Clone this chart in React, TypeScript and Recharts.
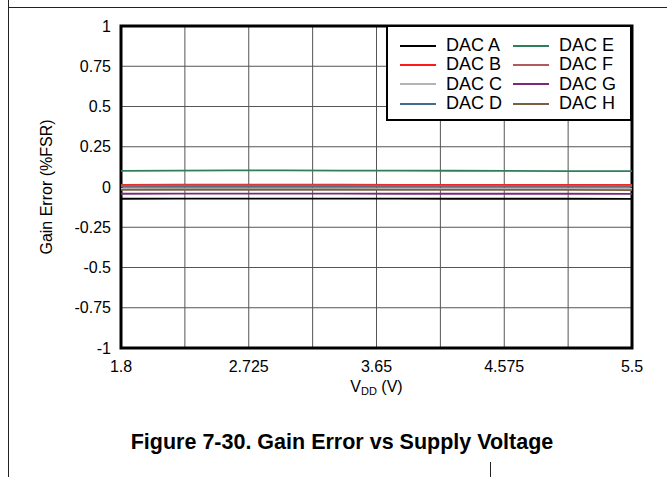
import React from 'react';
import { LineChart, Line, XAxis, YAxis, CartesianGrid, Legend, ReferenceArea } from 'recharts';

const vdd = [1.8, 2.2, 2.6, 3.0, 3.4, 3.8, 4.2, 4.6, 5.0, 5.5];
const dacA = [-0.073, -0.072, -0.072, -0.072, -0.072, -0.072, -0.073, -0.073, -0.073, -0.074];
const dacB = [0.013, 0.014, 0.014, 0.014, 0.014, 0.013, 0.013, 0.013, 0.013, 0.013];
const dacC = [-0.012, -0.011, -0.011, -0.011, -0.011, -0.012, -0.012, -0.012, -0.012, -0.012];
const dacD = [0.002, 0.003, 0.003, 0.003, 0.003, 0.002, 0.002, 0.002, 0.002, 0.002];
const dacE = [0.100, 0.102, 0.103, 0.103, 0.102, 0.102, 0.101, 0.100, 0.099, 0.099];
const dacF = [0.009, 0.010, 0.010, 0.010, 0.010, 0.009, 0.009, 0.009, 0.009, 0.009];
const dacG = [-0.042, -0.041, -0.041, -0.041, -0.041, -0.042, -0.042, -0.042, -0.042, -0.043];
const dacH = [-0.018, -0.017, -0.017, -0.017, -0.017, -0.018, -0.018, -0.018, -0.018, -0.019];

const seriesNames = ['DAC A', 'DAC B', 'DAC C', 'DAC D', 'DAC E', 'DAC F', 'DAC G', 'DAC H'];
const seriesColors = ['#000000', '#ff1a1a', '#b4b4b4', '#3f6e8e', '#2e7f5c', '#b05a5a', '#7a2a7a', '#7a6040'];
const seriesValues = [dacA, dacB, dacC, dacD, dacE, dacF, dacG, dacH];

const xGridTicks = [1.8, 2.2625, 2.725, 3.1875, 3.65, 4.1125, 4.575, 5.0375, 5.5];
const xTickLabels = ['1.8', '2.725', '3.65', '4.575', '5.5'];
const yTicks = [-1, -0.75, -0.5, -0.25, 0, 0.25, 0.5, 0.75, 1];

const data = vdd.map((v, i) => {
  const row: Record<string, number> = { vdd: v };
  seriesNames.forEach((n, k) => {
    row[n] = seriesValues[k][i];
  });
  return row;
});

const FONT = 'Arial, "Liberation Sans", Helvetica, sans-serif';

const LegendBox = () => {
  const left = seriesNames.slice(0, 4);
  const right = seriesNames.slice(4);
  const item = (n: string) => {
    const idx = seriesNames.indexOf(n);
    return (
      <div key={n} style={{ display: 'flex', alignItems: 'center', height: 19.3 }}>
        <div style={{ width: 36, height: 2, background: seriesColors[idx], marginRight: 10 }} />
        <span style={{ fontSize: 18, color: '#000', lineHeight: '19px' }}>{n}</span>
      </div>
    );
  };
  return (
    <div
      style={{
        boxSizing: 'border-box',
        width: 246,
        height: 96,
        border: '2.5px solid #000',
        background: '#fff',
        display: 'flex',
        paddingLeft: 12,
        paddingTop: 9,
        fontFamily: FONT,
      }}
    >
      <div style={{ width: 113 }}>{left.map(item)}</div>
      <div style={{ width: 113 }}>{right.map(item)}</div>
    </div>
  );
};

export default function App() {
  return (
    <div style={{ position: 'absolute', left: 0, top: 0, width: 667, height: 477, background: '#fff', fontFamily: FONT }}>
      <div style={{ position: 'absolute', left: 8, top: 0, width: 1, height: 477, background: '#222' }} />
      <div style={{ position: 'absolute', left: 8, top: 7, width: 659, height: 1, background: '#222' }} />
      <div style={{ position: 'absolute', left: 490, top: 462, width: 1, height: 15, background: '#222' }} />
      <LineChart
        width={667}
        height={477}
        data={data}
        margin={{ top: 26, right: 35, bottom: 99, left: 61 }}
        style={{ fontFamily: FONT }}
      >
        <CartesianGrid stroke="#555" strokeWidth={1} vertical horizontal />
        <XAxis
          dataKey="vdd"
          type="number"
          domain={[1.8, 5.5]}
          ticks={xGridTicks}
          interval={0}
          height={30}
          axisLine={false}
          tickLine={false}
          tickSize={0}
          tickMargin={13}
          tick={{ fill: '#000', fontSize: 16 }}
          tickFormatter={(v: number) => {
            const s = String(v);
            return xTickLabels.includes(s) ? s : '';
          }}
          label={{
            content: (props: any) => {
              const vb = props.viewBox || { x: 121, y: 348, width: 511 };
              const cx = vb.x + vb.width / 2;
              return (
                <text x={cx} y={vb.y + 44} textAnchor="middle" fontSize={16} fill="#000" fontFamily={FONT}>
                  <tspan>V</tspan>
                  <tspan fontSize={11} dy={3}>DD</tspan>
                  <tspan dy={-3}> (V)</tspan>
                </text>
              );
            },
          }}
        />
        <YAxis
          type="number"
          domain={[-1, 1]}
          ticks={yTicks}
          interval={0}
          width={60}
          axisLine={false}
          tickLine={false}
          tickSize={0}
          tickMargin={10}
          tick={{ fill: '#000', fontSize: 16 }}
          label={{
            content: (props: any) => {
              const vb = props.viewBox || { x: 61, y: 25, width: 60, height: 323 };
              const cx = vb.x - 15;
              const cy = vb.y + vb.height / 2;
              return (
                <text
                  x={cx}
                  y={cy}
                  textAnchor="middle"
                  dominantBaseline="central"
                  fontSize={16}
                  fill="#000"
                  fontFamily={FONT}
                  transform={`rotate(-90 ${cx} ${cy})`}
                >
                  Gain Error (%FSR)
                </text>
              );
            },
          }}
        />
        {seriesNames.map((n, k) => (
          <Line
            key={n}
            type="linear"
            dataKey={n}
            stroke={seriesColors[k]}
            strokeWidth={1.8}
            dot={false}
            isAnimationActive={false}
          />
        ))}
        <ReferenceArea x1={1.8} x2={5.5} y1={-1} y2={1} fill="none" stroke="#000" strokeWidth={3} ifOverflow="visible" />
        <Legend
          layout="vertical"
          align="center"
          verticalAlign="middle"
          content={() => <LegendBox />}
          wrapperStyle={{ position: 'absolute', left: 386, top: 25, width: 246, height: 96, margin: 0 }}
        />
      </LineChart>
      <div
        style={{
          position: 'absolute',
          left: 0,
          width: 684,
          top: 432,
          textAlign: 'center',
          fontSize: 21.5,
          lineHeight: '21px',
          fontWeight: 'bold',
          color: '#000',
        }}
      >
        Figure 7-30. Gain Error vs Supply Voltage
      </div>
    </div>
  );
}
